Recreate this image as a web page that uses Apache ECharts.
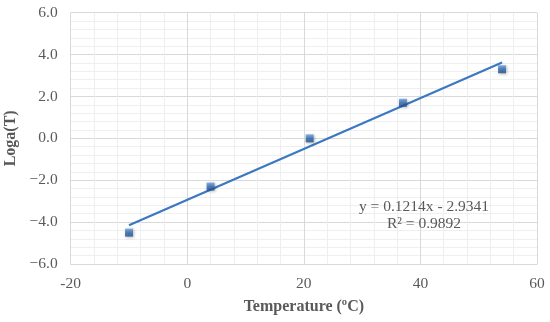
<!DOCTYPE html>
<html><head><meta charset="utf-8">
<script src="https://cdn.jsdelivr.net/npm/echarts@6/dist/echarts.min.js"></script>
<style>html,body{margin:0;padding:0;background:#fff}#c{width:550px;height:322px}</style>
</head><body><div id="c"></div>
<script>
const temperatures = [-10, 4, 21, 37, 54];
const logaT = [-4.5, -2.3, 0.0, 1.7, 3.3];
const trendX = [-10, 54];
const trendY = [-4.15, 3.62];
const equationText = ['y = 0.1214x - 2.9341', 'R² = 0.9892'];
const xTitle = 'Temperature (ºC)';
const yTitle = 'Loga(T)';

const chart = echarts.init(document.getElementById('c'));
const serif = '"Liberation Serif","Times New Roman",serif';
const points = temperatures.map((t, i) => [t, logaT[i]]);
const trend = trendX.map((t, i) => [t, trendY[i]]);
const gridCol = '#d9d9d9', minorCol = '#efefef';
chart.setOption({
  animation: false,
  grid: { left: 70.7, right: 13, top: 12.7, bottom: 58, containLabel: false, outerBoundsMode: 'none' },
  xAxis: {
    type: 'value', min: -20, max: 60, interval: 20,
    name: xTitle, nameLocation: 'middle', nameGap: 35,
    nameTextStyle: { fontFamily: serif, fontWeight: 'bold', fontSize: 16, color: '#595959' },
    axisLine: { show: true, onZero: false, lineStyle: { color: gridCol } },
    axisTick: { show: false },
    axisLabel: { fontFamily: serif, fontSize: 15.5, color: '#595959', margin: 12 },
    splitLine: { show: true, lineStyle: { color: gridCol } },
    minorTick: { show: false, splitNumber: 5 },
    minorSplitLine: { show: true, lineStyle: { color: minorCol } }
  },
  yAxis: {
    type: 'value', min: -6, max: 6, interval: 2,
    name: yTitle, nameLocation: 'middle', nameGap: 47, nameRotate: 90,
    nameTextStyle: { fontFamily: serif, fontWeight: 'bold', fontSize: 16, color: '#595959' },
    axisLine: { show: true, lineStyle: { color: gridCol } },
    axisTick: { show: false },
    axisLabel: { fontFamily: serif, fontSize: 15.5, color: '#595959', margin: 13,
      formatter: v => (v < 0 ? '\u2212' + Math.abs(v).toFixed(1) : v.toFixed(1)) },
    splitLine: { show: true, lineStyle: { color: gridCol } },
    minorTick: { show: false, splitNumber: 5 },
    minorSplitLine: { show: true, lineStyle: { color: minorCol } }
  },
  series: [
    {
      type: 'line', data: trend, symbol: 'none', z: 2,
      lineStyle: { color: '#3b78c2', width: 2.2 }
    },
    {
      type: 'scatter', data: points, symbol: 'rect', symbolSize: 8, z: 3,
      itemStyle: {
        color: new echarts.graphic.LinearGradient(0, 0, 0, 1, [
          { offset: 0, color: '#6a9fe0' }, { offset: 0.5, color: '#2f68b0' }, { offset: 1, color: '#1f4f8c' }
        ]),
        shadowColor: 'rgba(0,0,0,0.35)', shadowBlur: 3, shadowOffsetX: 1, shadowOffsetY: 1
      }
    }
  ],
  graphic: [
    { type: 'text', x: 424, y: 207, z: 100, style: { text: equationText[0], fontFamily: serif, fontSize: 15.5, fill: '#595959', align: 'center', verticalAlign: 'middle' } },
    { type: 'text', x: 424, y: 224, z: 100, style: { text: equationText[1], fontFamily: serif, fontSize: 15.5, fill: '#595959', align: 'center', verticalAlign: 'middle' } }
  ]
});
</script></body></html>
